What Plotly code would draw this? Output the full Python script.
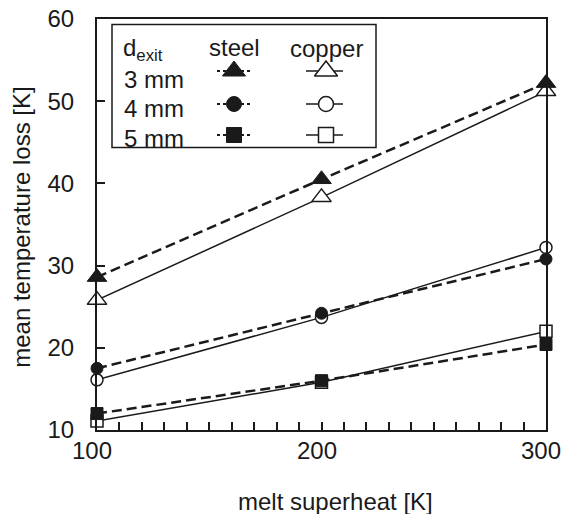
import plotly.graph_objects as go

# ---------------- data ----------------
superheat = [100, 200, 300]
steel_3mm = [28.6, 40.5, 52.2]
steel_4mm = [17.5, 24.2, 30.8]
steel_5mm = [12.0, 16.0, 20.4]
copper_3mm = [25.8, 38.3, 51.2]
copper_4mm = [16.1, 23.7, 32.2]
copper_5mm = [11.1, 15.8, 22.0]

x_tick_vals = [100, 200, 300]
x_tick_labels = ["100", "200", "300"]
y_tick_vals = [10, 20, 30, 40, 50, 60]

sizes = ["3 mm", "4 mm", "5 mm"]
symbols = ["triangle-up", "circle", "square"]
msizes = [17, 12, 12]

FONT = "Liberation Sans, Arial, sans-serif"
INK = "#1a1a1a"
FS = 24

W, H = 562, 514
L, R, T, B = 97, 16, 19, 84

fig = go.Figure()

steel = [steel_3mm, steel_4mm, steel_5mm]
copper = [copper_3mm, copper_4mm, copper_5mm]

for i in range(3):
    fig.add_trace(go.Scatter(
        x=superheat, y=copper[i], mode="lines+markers",
        line=dict(color=INK, width=1.5),
        marker=dict(symbol=symbols[i], size=msizes[i], color="white",
                    line=dict(color=INK, width=1.5)),
        showlegend=False, cliponaxis=False))
for i in range(3):
    fig.add_trace(go.Scatter(
        x=superheat, y=steel[i], mode="lines+markers",
        line=dict(color=INK, width=2.5, dash="10px,5px"),
        marker=dict(symbol=symbols[i], size=msizes[i], color=INK,
                    line=dict(color=INK, width=1)),
        showlegend=False, cliponaxis=False))

# ---------------- custom legend (pixel-coordinate overlay axes) ----------------
leg_rows_y = [71, 104, 135]
steel_x, copper_x = 234, 326
for i in range(3):
    fig.add_trace(go.Scatter(
        x=[steel_x - 17, steel_x + 18], y=[leg_rows_y[i]] * 2, mode="lines",
        line=dict(color=INK, width=2, dash="dot"),
        xaxis="x2", yaxis="y2", showlegend=False, hoverinfo="skip"))
    fig.add_trace(go.Scatter(
        x=[steel_x], y=[leg_rows_y[i]], mode="markers",
        marker=dict(symbol=symbols[i], size=msizes[i] + 3, color=INK,
                    line=dict(color=INK, width=1)),
        xaxis="x2", yaxis="y2", showlegend=False, hoverinfo="skip"))
    fig.add_trace(go.Scatter(
        x=[copper_x - 20, copper_x + 17], y=[leg_rows_y[i]] * 2, mode="lines",
        line=dict(color=INK, width=1.5),
        xaxis="x2", yaxis="y2", showlegend=False, hoverinfo="skip"))
    fig.add_trace(go.Scatter(
        x=[copper_x], y=[leg_rows_y[i]], mode="markers",
        marker=dict(symbol=symbols[i], size=msizes[i] + 3, color="white",
                    line=dict(color=INK, width=1.5)),
        xaxis="x2", yaxis="y2", showlegend=False, hoverinfo="skip"))

annotations = []
txt = dict(family=FONT, size=FS, color=INK)
annotations.append(dict(x=121, y=49, xref="x2", yref="y2", text="d<sub>exit</sub>",
                        showarrow=False, xanchor="left", yanchor="middle", font=txt))
annotations.append(dict(x=steel_x, y=47, xref="x2", yref="y2", text="steel",
                        showarrow=False, xanchor="center", yanchor="middle", font=txt))
annotations.append(dict(x=326, y=48, xref="x2", yref="y2", text="copper",
                        showarrow=False, xanchor="center", yanchor="middle", font=txt))
for i, s in enumerate(sizes):
    annotations.append(dict(x=122, y=[79, 108, 138][i], xref="x2", yref="y2", text=s,
                            showarrow=False, xanchor="left", yanchor="middle", font=txt))

# x tick labels (as annotations tied to the x axis, so the last one is not clipped)
for v, lab in zip(x_tick_vals, x_tick_labels):
    annotations.append(dict(x=v, y=0, xref="x", yref="paper", text=lab,
                            xshift=-5, yshift=-20, showarrow=False,
                            xanchor="center", yanchor="middle", font=txt))

# axis titles
annotations.append(dict(x=0.531, y=-0.1745, xref="paper", yref="paper",
                        text="melt superheat [K]",
                        showarrow=False, xanchor="center", yanchor="middle", font=txt))
annotations.append(dict(x=-0.167, y=0.492, xref="paper", yref="paper",
                        text="mean temperature loss [K]", textangle=-90,
                        showarrow=False, xanchor="center", yanchor="middle", font=txt))

shapes = [dict(type="rect", xref="x2", yref="y2", x0=112, x1=376, y0=24.5, y1=147.5,
               line=dict(color=INK, width=1.5), layer="above")]

fig.update_layout(
    width=W, height=H,
    margin=dict(l=L, r=R, t=T, b=B, autoexpand=False),
    paper_bgcolor="white", plot_bgcolor="white",
    font=dict(family=FONT, size=FS, color=INK),
    xaxis=dict(range=[100, 300], tickvals=list(range(100, 301, 10)),
               ticks="inside", ticklen=8, tickwidth=1.5, tickcolor=INK,
               showticklabels=False, automargin=False,
               showgrid=False, zeroline=False,
               showline=True, linecolor=INK, linewidth=2, mirror=True),
    yaxis=dict(range=[10, 60], tickvals=y_tick_vals,
               ticks="inside", ticklen=8, tickwidth=1.5, tickcolor=INK,
               ticklabelstandoff=16, ticklabeloverflow="allow", automargin=False,
               tickfont=dict(family=FONT, size=FS, color=INK),
               showgrid=False, zeroline=False,
               showline=True, linecolor=INK, linewidth=2, mirror=True),
    xaxis2=dict(overlaying="x", range=[L, W - R], visible=False, fixedrange=True),
    yaxis2=dict(overlaying="y", range=[H - B, T], visible=False, fixedrange=True),
    annotations=annotations,
    shapes=shapes,
)

fig.write_html("out.html")
